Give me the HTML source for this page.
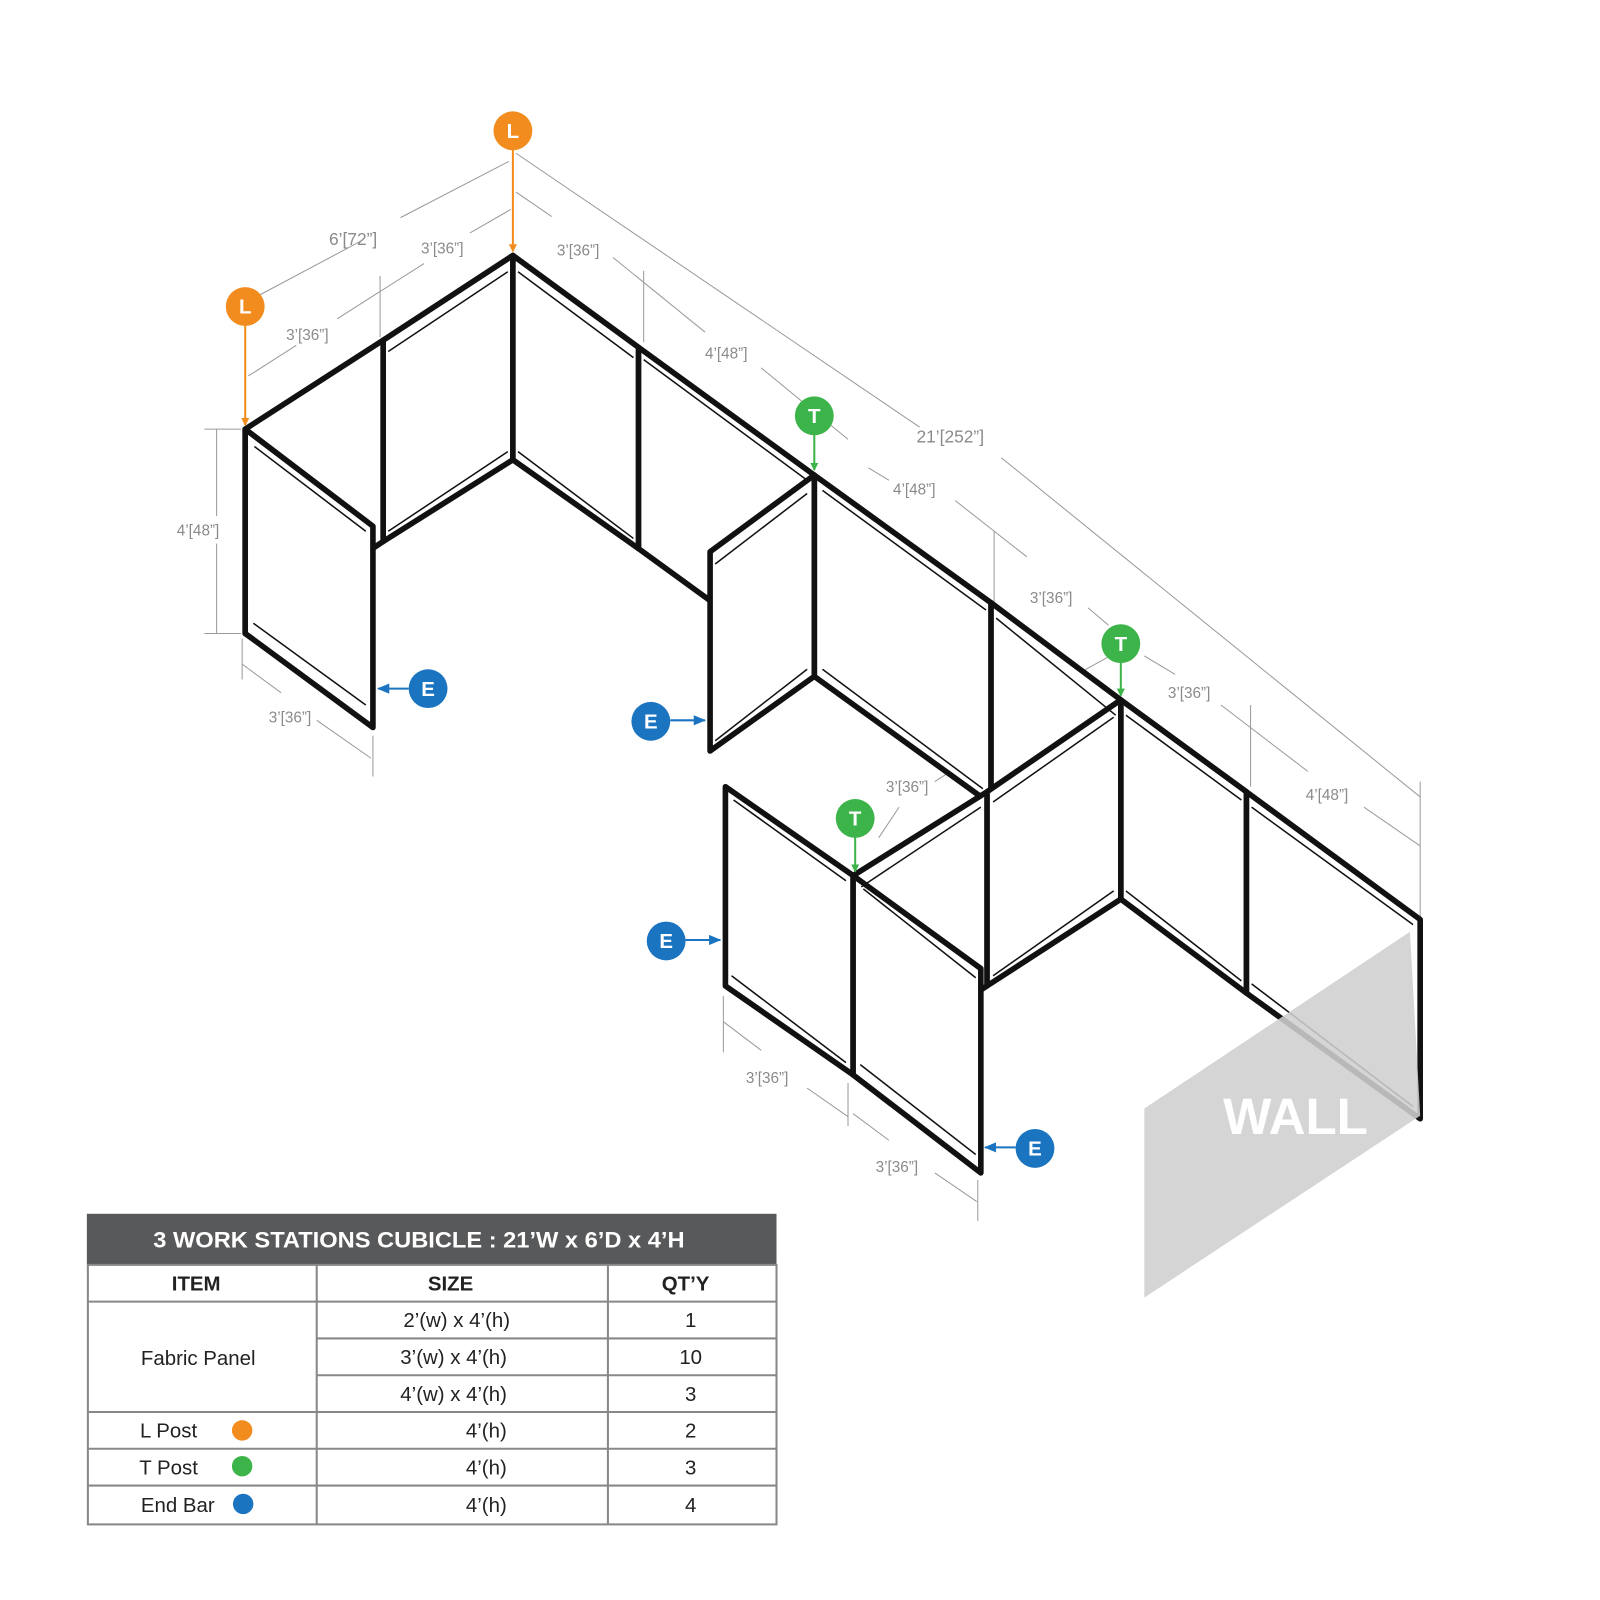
<!DOCTYPE html>
<html><head><meta charset="utf-8"><style>
html,body{margin:0;padding:0;background:#fff}
svg{display:block}
.d{stroke:#9a9a9a;stroke-width:1;fill:none}
.t{font-family:"Liberation Sans Narrow","Liberation Sans",sans-serif;fill:#8a8a8a;font-size:15px}
.c{font-family:"Liberation Sans",sans-serif;font-weight:bold;fill:#fff;font-size:20px;text-anchor:middle}
.p{fill:#fff;stroke:#111;stroke-width:5.5;stroke-linejoin:round}
.pi{fill:none;stroke:#111;stroke-width:1.5}
.tb{font-family:"Liberation Sans Narrow","Liberation Sans",sans-serif;fill:#222;font-size:20px;text-anchor:middle}
</style></head><body>
<svg width="1600" height="1600" viewBox="0 0 1566 1566" xmlns="http://www.w3.org/2000/svg">
<defs>
<marker id="ao" markerWidth="8" markerHeight="8" refX="7" refY="4" orient="auto" markerUnits="userSpaceOnUse"><path d="M0,0 L8,4 L0,8z" fill="#f28c1e"/></marker>
<marker id="ag" markerWidth="8" markerHeight="8" refX="7" refY="4" orient="auto" markerUnits="userSpaceOnUse"><path d="M0,0 L8,4 L0,8z" fill="#3cb44a"/></marker>
<marker id="ab" markerWidth="12" markerHeight="10" refX="11" refY="5" orient="auto" markerUnits="userSpaceOnUse"><path d="M0,0 L12,5 L0,10z" fill="#1a74bf"/></marker>
</defs>

<g class="d">
<line x1="248" y1="292" x2="355" y2="235"/><line x1="392" y1="213" x2="498" y2="158"/>
<line x1="243" y1="368" x2="290" y2="338"/><line x1="330" y1="312" x2="415" y2="258"/><line x1="460" y1="228" x2="500" y2="205"/>
<line x1="505" y1="150" x2="900" y2="418"/><line x1="980" y1="448" x2="1390" y2="780"/>
<line x1="505" y1="188" x2="540" y2="212"/><line x1="600" y1="252" x2="690" y2="325"/><line x1="745" y1="360" x2="830" y2="430"/>
<line x1="850" y1="458" x2="870" y2="470"/><line x1="935" y1="490" x2="1005" y2="545"/><line x1="1065" y1="595" x2="1085" y2="612"/>
<line x1="1150" y1="660" x2="1120" y2="642"/><line x1="1195" y1="690" x2="1280" y2="755"/><line x1="1335" y1="790" x2="1390" y2="828"/>
<line x1="372" y1="270" x2="372" y2="330"/><line x1="630" y1="265" x2="630" y2="335"/>
<line x1="973" y1="520" x2="973" y2="590"/><line x1="1224" y1="690" x2="1224" y2="770"/><line x1="1390" y1="765" x2="1390" y2="900"/>
<line x1="690" y1="480" x2="690" y2="540"/><line x1="690" y1="495" x2="725" y2="473"/>
<line x1="200" y1="420" x2="236" y2="420"/><line x1="200" y1="620" x2="236" y2="620"/><line x1="212" y1="420" x2="212" y2="505"/><line x1="212" y1="532" x2="212" y2="620"/>
<line x1="237" y1="625" x2="237" y2="665"/><line x1="237" y1="650" x2="275" y2="678"/><line x1="310" y1="705" x2="363" y2="742"/><line x1="365" y1="720" x2="365" y2="760"/>
<line x1="915" y1="765" x2="1030" y2="690"/><line x1="1045" y1="665" x2="1090" y2="640"/>
<line x1="860" y1="820" x2="880" y2="790"/>
<line x1="708" y1="975" x2="708" y2="1030"/><line x1="708" y1="1000" x2="745" y2="1028"/><line x1="790" y1="1065" x2="830" y2="1093"/>
<line x1="830" y1="1060" x2="830" y2="1102"/><line x1="835" y1="1090" x2="870" y2="1116"/><line x1="915" y1="1148" x2="956" y2="1176"/><line x1="957" y1="1155" x2="957" y2="1195"/>
</g>
<g class="t">
<text x="322" y="240" style="font-size:17px">6’[72”]</text>
<text x="412" y="248">3’[36”]</text>
<text x="280" y="333">3’[36”]</text>
<text x="545" y="250">3’[36”]</text>
<text x="690" y="351">4’[48”]</text>
<text x="897" y="433" style="font-size:17px">21’[252”]</text>
<text x="713" y="467">2’[24”]</text>
<text x="874" y="484">4’[48”]</text>
<text x="1008" y="590">3’[36”]</text>
<text x="992" y="687">3’[36”]</text>
<text x="1143" y="683">3’[36”]</text>
<text x="1278" y="783">4’[48”]</text>
<text x="867" y="775">3’[36”]</text>
<text x="173" y="524">4’[48”]</text>
<text x="263" y="707">3’[36”]</text>
<text x="730" y="1060">3’[36”]</text>
<text x="857" y="1147">3’[36”]</text>
</g>

<g>
<polygon class="p" points="502,250 375,333 375,530 502,450"/>
<polygon class="p" points="375,333 240,420 240,620 375,530"/>
<polygon class="p" points="502,250 625,340 625,537 502,450"/>
<polygon class="p" points="625,340 797,465 797,662 625,537"/>
<polygon class="p" points="797,465 970,590 970,787 797,662"/>
<polygon class="p" points="970,590 1097,685 1097,880 970,787"/>
<polygon class="p" points="1097,685 1220,775 1220,972 1097,880"/>
<polygon class="p" points="1220,775 1390,900 1390,1095 1220,972"/>
<polygon class="p" points="240,420 365,515 365,712 240,620"/>
<polygon class="p" points="797,465 695,540 695,735 797,662"/>
<polygon class="p" points="1097,685 966,775 966,965 1097,880"/>
<polygon class="p" points="966,775 835,857 835,1052 966,965"/>
<polygon class="p" points="835,857 710,770 710,965 835,1052"/>
<polygon class="p" points="835,857 960,948 960,1148 835,1052"/>
</g>
<g class="pi">
<polyline points="249,437 358,520"/><polyline points="380,344 497,266"/><polyline points="507,266 620,350"/>
<polyline points="630,352 790,470"/><polyline points="805,480 965,597"/><polyline points="975,605 1092,700"/>
<polyline points="1102,700 1215,783"/><polyline points="1225,790 1383,905"/><polyline points="700,552 790,483"/>
<polyline points="845,870 955,957"/><polyline points="718,783 828,862"/><polyline points="972,785 1090,702"/><polyline points="843,868 960,790"/>
<polyline points="248,610 358,690"/><polyline points="380,520 497,442"/><polyline points="507,442 620,527"/>
<polyline points="700,725 790,655"/><polyline points="805,655 962,772"/><polyline points="972,955 1090,872"/>
<polyline points="1102,872 1215,960"/><polyline points="1225,963 1383,1083"/><polyline points="716,955 828,1040"/><polyline points="842,1042 955,1130"/>
</g>
<polygon points="1120,1085 1380,912 1390,1092 1120,1270" fill="#cfcfd0" opacity="0.88"/>
<text x="1268" y="1110" font-family="Liberation Sans Narrow, Liberation Sans, sans-serif" font-weight="bold" font-size="50" fill="#fff" text-anchor="middle">WALL</text>

<line x1="502" y1="146" x2="502" y2="246" stroke="#f28c1e" stroke-width="2" marker-end="url(#ao)"/>
<line x1="240" y1="318" x2="240" y2="416" stroke="#f28c1e" stroke-width="2" marker-end="url(#ao)"/>
<line x1="797" y1="425" x2="797" y2="460" stroke="#3cb44a" stroke-width="2" marker-end="url(#ag)"/>
<line x1="1097" y1="648" x2="1097" y2="681" stroke="#3cb44a" stroke-width="2" marker-end="url(#ag)"/>
<line x1="837" y1="819" x2="837" y2="853" stroke="#3cb44a" stroke-width="2" marker-end="url(#ag)"/>
<line x1="400" y1="674" x2="370" y2="674" stroke="#1a74bf" stroke-width="2" marker-end="url(#ab)"/>
<line x1="656" y1="705" x2="690" y2="705" stroke="#1a74bf" stroke-width="2" marker-end="url(#ab)"/>
<line x1="671" y1="920" x2="705" y2="920" stroke="#1a74bf" stroke-width="2" marker-end="url(#ab)"/>
<line x1="994" y1="1123" x2="964" y2="1123" stroke="#1a74bf" stroke-width="2" marker-end="url(#ab)"/>
<g>
<circle cx="502" cy="128" r="19" fill="#f28c1e"/><text class="c" x="502" y="135">L</text>
<circle cx="240" cy="300" r="19" fill="#f28c1e"/><text class="c" x="240" y="307">L</text>
<circle cx="797" cy="407" r="19" fill="#3cb44a"/><text class="c" x="797" y="414">T</text>
<circle cx="1097" cy="630" r="19" fill="#3cb44a"/><text class="c" x="1097" y="637">T</text>
<circle cx="837" cy="801" r="19" fill="#3cb44a"/><text class="c" x="837" y="808">T</text>
<circle cx="419" cy="674" r="19" fill="#1a74bf"/><text class="c" x="419" y="681">E</text>
<circle cx="637" cy="706" r="19" fill="#1a74bf"/><text class="c" x="637" y="713">E</text>
<circle cx="652" cy="921" r="19" fill="#1a74bf"/><text class="c" x="652" y="928">E</text>
<circle cx="1013" cy="1124" r="19" fill="#1a74bf"/><text class="c" x="1013" y="1131">E</text>
</g>

<rect x="85" y="1188" width="675" height="50" fill="#58595b"/>
<text x="410" y="1221" font-family="Liberation Sans Narrow, Liberation Sans, sans-serif" font-weight="bold" font-size="22" fill="#fff" text-anchor="middle" textLength="520" lengthAdjust="spacingAndGlyphs">3 WORK STATIONS  CUBICLE :  21’W x 6’D x 4’H</text>
<g stroke="#888" stroke-width="2" fill="none">
<rect x="86" y="1238" width="674" height="254"/>
<line x1="310" y1="1238" x2="310" y2="1492"/><line x1="595" y1="1238" x2="595" y2="1492"/>
<line x1="86" y1="1274" x2="760" y2="1274"/>
<line x1="310" y1="1310" x2="760" y2="1310"/><line x1="310" y1="1346" x2="760" y2="1346"/>
<line x1="86" y1="1382" x2="760" y2="1382"/><line x1="86" y1="1418" x2="760" y2="1418"/><line x1="86" y1="1454" x2="760" y2="1454"/>
</g>
<g class="tb">
<text x="192" y="1263" font-weight="bold">ITEM</text><text x="441" y="1263" font-weight="bold">SIZE</text><text x="671" y="1263" font-weight="bold">QT’Y</text>
<text x="447" y="1299">2’(w) x 4’(h)</text><text x="676" y="1299">1</text>
<text x="194" y="1336">Fabric Panel</text>
<text x="444" y="1335">3’(w) x 4’(h)</text><text x="676" y="1335">10</text>
<text x="444" y="1371">4’(w) x 4’(h)</text><text x="676" y="1371">3</text>
<text x="165" y="1407">L Post</text><text x="476" y="1407">4’(h)</text><text x="676" y="1407">2</text>
<text x="165" y="1443">T Post</text><text x="476" y="1443">4’(h)</text><text x="676" y="1443">3</text>
<text x="174" y="1480">End  Bar</text><text x="476" y="1480">4’(h)</text><text x="676" y="1480">4</text>
</g>
<circle cx="237" cy="1400" r="10" fill="#f28c1e"/>
<circle cx="237" cy="1435" r="10" fill="#3cb44a"/>
<circle cx="238" cy="1472" r="10" fill="#1a74bf"/>
</svg>
</body></html>
